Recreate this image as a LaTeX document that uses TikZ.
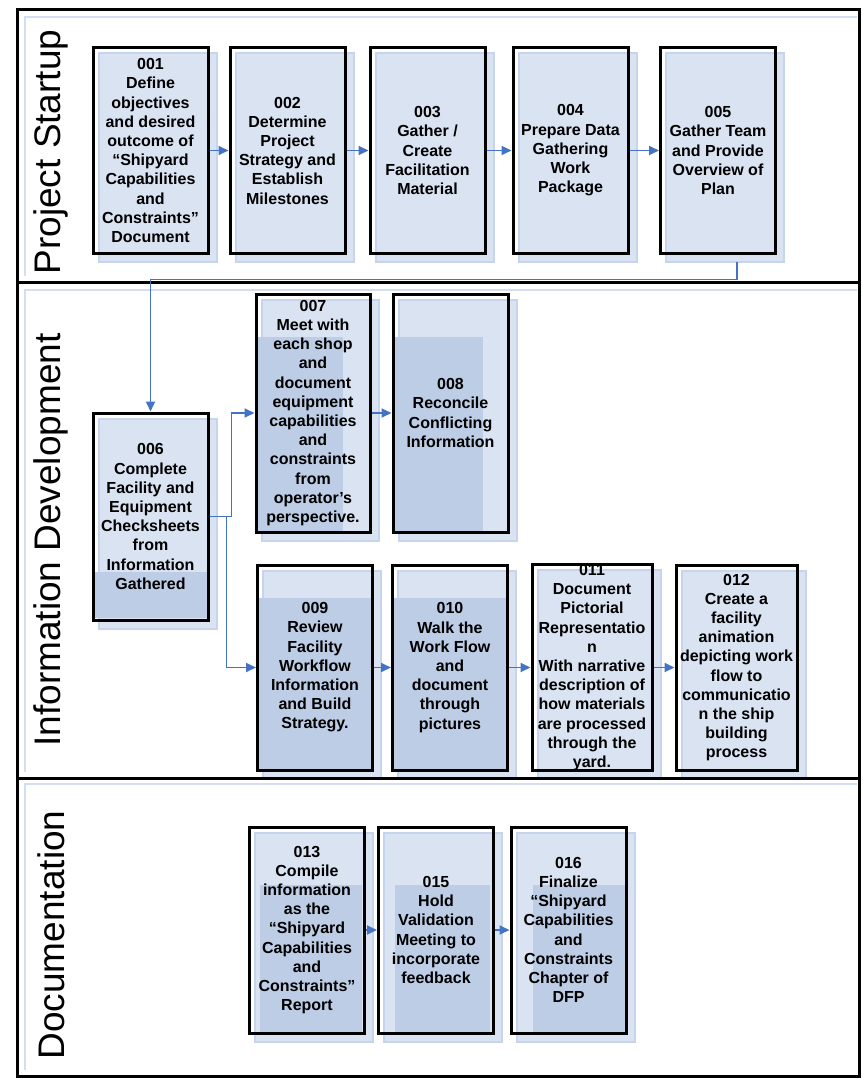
\documentclass[tikz,border=0pt]{standalone}
\usepackage{fontspec}
\setmainfont{Liberation Sans}
\usetikzlibrary{arrows.meta}
\definecolor{boxfill}{HTML}{DAE3F2}
\definecolor{boxedge}{HTML}{C6D5EB}
\definecolor{boxdark}{HTML}{BDCDE6}
\definecolor{flowblue}{HTML}{4472C4}
\definecolor{laneedge}{HTML}{D3DEF0}
\pgfdeclarelayer{back}
\pgfdeclarelayer{mid}
\pgfsetlayers{back,mid,main}

\begin{document}
\begin{tikzpicture}[x=1pt,y=-1pt,style=thick,>={Triangle[length=10pt,width=9pt]}]
\newcommand{\bw}{115pt}
\newcommand{\bh}{205pt}
\useasboundingbox (0,0) rectangle (862,1078);
\draw[line width=3pt] (17,10) rectangle (859,1076);
\draw[line width=3pt] (17,282) -- (859,282);
\draw[line width=3pt] (17,778) -- (859,778);
\draw[laneedge,line width=2.5pt] (857,17) -| (25,276);
\draw[laneedge,line width=2.5pt] (857,290) -| (25,772);
\draw[laneedge,line width=2.5pt] (857,784) -| (25,1070);
\begin{scope}[font=\fontsize{37}{44}\selectfont]
\node[rotate=90] (lane1) at (51,152) {Project Startup};
\node[rotate=90] (lane2) at (51,540) {Information Development};
\node[rotate=90] (lane3) at (51,935) {Documentation};
\end{scope}
\begin{scope}[every node/.style={draw,line width=3pt,minimum width=\bw,minimum height=\bh,align=center,inner sep=0pt,font=\bfseries\fontsize{16}{19.2}\selectfont}]
\node (t001) at (150.5,150.5) {001\\Define\\objectives\\and desired\\outcome of\\“Shipyard\\Capabilities\\and\\Constraints”\\Document};
\node (t002) at (287.5,150.5) {002\\Determine\\Project\\Strategy and\\Establish\\Milestones};
\node (t003) at (427.5,150.5) {003\\Gather /\\Create\\Facilitation\\Material};
\node (t004) at (570.5,150.5) {004\\Prepare Data\\Gathering\\Work\\Package};
\node (t005) at (718,150.5) {005\\Gather Team\\and Provide\\Overview of\\Plan};
\node[minimum height=207pt] (t006) at (150.5,516.5) {006\\Complete\\Facility and\\Equipment\\Checksheets\\from\\Information\\Gathered};
\node[minimum height=238pt,minimum width=114pt] (t007) at (313,413) {007\\Meet with\\each shop\\and\\document\\equipment\\capabilities\\and\\constraints\\from\\operator’s\\perspective.};
\node[minimum height=238pt] (t008) at (450.5,413) {008\\Reconcile\\Conflicting\\Information};
\node (t009) at (315,667.5) {009\\Review\\Facility\\Workflow\\Information\\and Build\\Strategy.};
\node (t010) at (450,667.5) {010\\Walk the\\Work Flow\\and\\document\\through\\pictures};
\node[minimum width=120pt] (t011) at (592,667.5) {011\\Document\\Pictorial\\Representatio\\n\\With narrative\\description of\\how materials\\are processed\\through the\\yard.};
\node[minimum width=121pt] (t012) at (736.5,667.5) {012\\Create a\\facility\\animation\\depicting work\\flow to\\communicatio\\n the ship\\building\\process};
\node[minimum height=206pt] (t013) at (307,930) {013\\Compile\\information\\as the\\“Shipyard\\Capabilities\\and\\Constraints”\\Report};
\node[minimum height=206pt] (t015) at (436,930) {015\\Hold\\Validation\\Meeting to\\incorporate\\feedback};
\node[minimum height=206pt] (t016) at (568.5,930) {016\\Finalize\\“Shipyard\\Capabilities\\and\\Constraints\\Chapter of\\DFP};
\end{scope}
\begin{pgfonlayer}{back}
\foreach \n in {t001,t002,t003,t004,t005,t006,t007,t008,t009,t010,t011,t012,t013,t015,t016}
  \draw[boxedge,fill=boxfill,line width=2pt] ([shift={(7,7)}]\n.south west) rectangle ([shift={(7,7)}]\n.north east);
\end{pgfonlayer}
\begin{pgfonlayer}{mid}
\fill[boxdark] (258,337) rectangle (343,531);
\fill[boxdark] (395,337) rectangle (483,531);
\fill[boxdark] (95,572) rectangle (207,618);
\fill[boxdark] (259,598) rectangle (371,769);
\fill[boxdark] (394,598) rectangle (506,769);
\fill[boxdark] (260,885) rectangle (362,1032);
\fill[boxdark] (395,885) rectangle (490,1032);
\fill[boxdark] (533,885) rectangle (626,1032);
\end{pgfonlayer}
\begin{scope}[flowblue,line width=1.8pt]
\draw [->] (t001) -- (t002);
\draw [->] (t002) -- (t003);
\draw [->] (t003) -- (t004);
\draw [->] (t004) -- (t005);
\draw [->] ([xshift=19pt,yshift=-7pt]t005.south) -- ++(0,18) -| (t006);
\draw [->] (t006.east) -- ++(22,0) |- (t007);
\draw [->] (t006.east) -- ++(17,0) |- (t009);
\draw [->] (t007) -- (t008);
\draw [->] (t009) -- (t010);
\draw [->] (t010) -- (t011);
\draw [->] (t011) -- (t012);
\draw [->] (t013) -- (t015);
\draw [->] (t015) -- (t016);
\end{scope}
\end{tikzpicture}
\end{document}
